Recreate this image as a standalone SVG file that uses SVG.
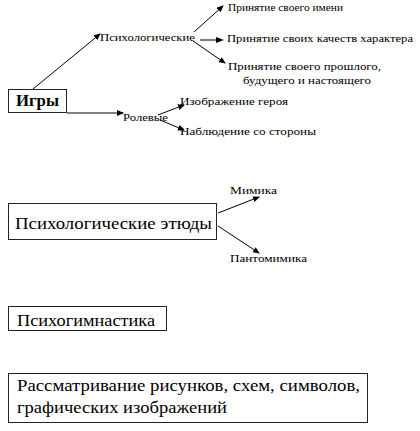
<svg xmlns="http://www.w3.org/2000/svg" width="420" height="431" viewBox="0 0 420 431">
<style>
.box{fill:#fff;stroke:#222;stroke-width:1}
.big{font-family:"Liberation Serif","Times New Roman",serif;font-size:16px;fill:#000}
.sm{font-family:"Liberation Serif","Times New Roman",serif;font-size:11px;fill:#000}
.ln{stroke:#000;stroke-width:1;fill:none;marker-end:url(#ah)}
.gl{stroke:#808080;stroke-width:2.2;fill:none}
</style>
<defs>
<marker id="ah" markerWidth="7" markerHeight="6" refX="6" refY="3" orient="auto" markerUnits="userSpaceOnUse">
<path d="M0,0 L7,3 L0,6 Z" fill="#000"/>
</marker>
</defs>
<rect width="420" height="431" fill="#fff"/>
<g id="connectors">
<line class="ln" x1="33" y1="89" x2="100" y2="34"/>
<line class="ln" x1="67" y1="113" x2="123" y2="113"/>
<line class="ln" x1="194" y1="32" x2="223" y2="6"/>
<line class="gl" x1="200" y1="40" x2="218" y2="40"/>
<path d="M216,37 L224,40 L216,43 Z" fill="#000"/>
<line class="ln" x1="193" y1="41" x2="225" y2="63"/>
<line class="ln" x1="158" y1="115" x2="184" y2="105"/>
<line class="ln" x1="160" y1="120" x2="184" y2="130"/>
<line class="ln" x1="218" y1="213" x2="259" y2="197"/>
<line class="ln" x1="218" y1="226" x2="259" y2="253"/>
</g>
<g id="n-igry">
<rect class="box" x="8.5" y="89.5" width="58" height="23"/>
<text class="big" x="16" y="106" font-weight="bold" textLength="43" lengthAdjust="spacingAndGlyphs">Игры</text>
</g>
<g id="n-psych">
<text class="sm" x="100" y="41" textLength="95" lengthAdjust="spacingAndGlyphs">Психологические</text>
</g>
<g id="n-name">
<text class="sm" x="228" y="11" textLength="115" lengthAdjust="spacingAndGlyphs">Принятие своего имени</text>
</g>
<g id="n-char">
<text class="sm" x="227" y="42" textLength="186" lengthAdjust="spacingAndGlyphs">Принятие своих качеств характера</text>
</g>
<g id="n-past">
<text class="sm" x="228" y="70" textLength="153" lengthAdjust="spacingAndGlyphs">Принятие своего прошлого,</text>
<text class="sm" x="243" y="84" textLength="128" lengthAdjust="spacingAndGlyphs">будущего и настоящего</text>
</g>
<g id="n-role">
<text class="sm" x="123" y="121" textLength="45" lengthAdjust="spacingAndGlyphs">Ролевые</text>
</g>
<g id="n-hero">
<text class="sm" x="180" y="105" textLength="108" lengthAdjust="spacingAndGlyphs">Изображение героя</text>
</g>
<g id="n-observe">
<text class="sm" x="180" y="135" textLength="136" lengthAdjust="spacingAndGlyphs">Наблюдение со стороны</text>
</g>
<g id="n-etudes">
<rect class="box" x="8.5" y="203.5" width="208" height="36"/>
<text class="big" x="15" y="229" textLength="197" lengthAdjust="spacingAndGlyphs">Психологические этюды</text>
</g>
<g id="n-mimika">
<text class="sm" x="230" y="194" textLength="47" lengthAdjust="spacingAndGlyphs">Мимика</text>
</g>
<g id="n-panto">
<text class="sm" x="230" y="262" textLength="77" lengthAdjust="spacingAndGlyphs">Пантомимика</text>
</g>
<g id="n-gym">
<rect class="box" x="8.5" y="306.5" width="158" height="24"/>
<text class="big" x="17" y="326" textLength="138" lengthAdjust="spacingAndGlyphs">Психогимнастика</text>
</g>
<g id="n-pictures">
<rect class="box" x="8.5" y="373.5" width="359" height="49"/>
<text class="big" x="17" y="391" textLength="343" lengthAdjust="spacingAndGlyphs">Рассматривание рисунков, схем, символов,</text>
<text class="big" x="17" y="413" textLength="210" lengthAdjust="spacingAndGlyphs">графических изображений</text>
</g>
</svg>
